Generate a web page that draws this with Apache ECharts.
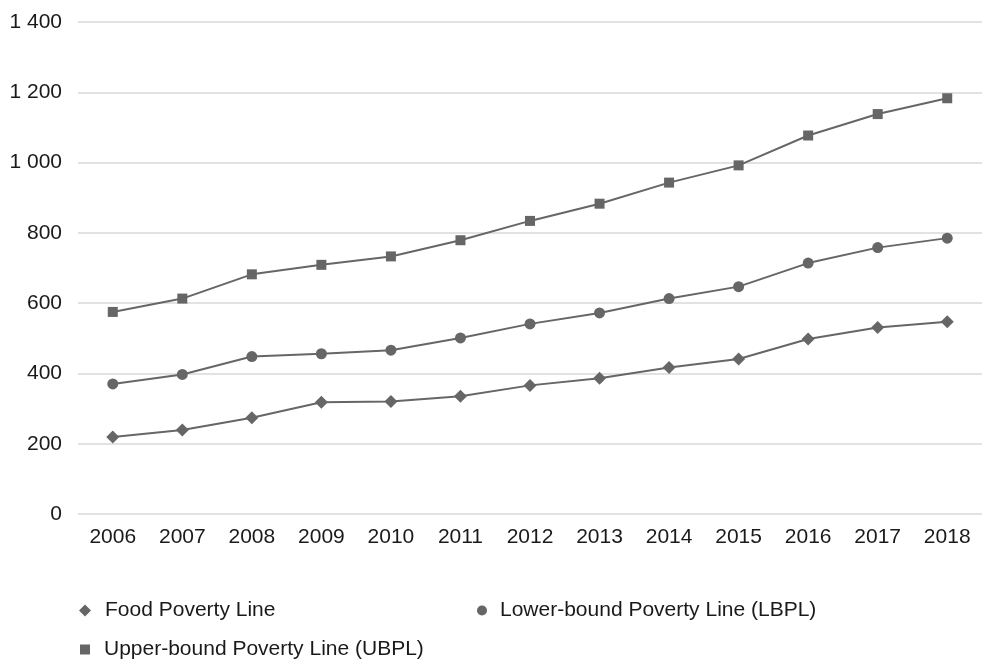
<!DOCTYPE html>
<html>
<head>
<meta charset="utf-8">
<script src="https://cdn.jsdelivr.net/npm/echarts@6/dist/echarts.min.js"></script>
<style>
  html, body { margin: 0; padding: 0; background: #fff; }
  #chart { width: 982px; height: 659px; }
</style>
</head>
<body>
<div id="chart"></div>
<script>
var years = ['2006','2007','2008','2009','2010','2011','2012','2013','2014','2015','2016','2017','2018'];
var foodLine = [219, 239, 274, 318, 320, 335, 366, 386, 417, 441, 498, 531, 547];
var lowerLine = [370, 397, 448, 456, 466, 501, 541, 572, 613, 647, 714, 758, 785];
var upperLine = [575, 613, 682, 709, 733, 779, 834, 883, 943, 992, 1077, 1138, 1183];
var seriesNames = ['Food Poverty Line', 'Lower-bound Poverty Line (LBPL)', 'Upper-bound Poverty Line (UBPL)'];
var seriesIcons = ['diamond', 'circle', 'rect'];

var grey = '#666666';
var txt = { fontFamily: 'Arial, Liberation Sans, sans-serif', fontSize: 21, color: '#1a1a1a' };

function legendFor(idx, left, top) {
    return {
        data: [{ name: seriesNames[idx], icon: seriesIcons[idx] }],
        left: left,
        top: top,
        padding: 0,
        itemWidth: idx == 0 ? 12 : 10,
        itemHeight: idx == 0 ? 12 : 10,
        textStyle: Object.assign({ padding: [0, 0, 0, idx == 1 ? 8 : 9] }, txt)
    };
}

var chart = echarts.init(document.getElementById('chart'));
var option = {
    animation: false,
    legend: [
        legendFor(0, 79, 600),
        legendFor(1, 477, 600),
        legendFor(2, 80, 639)
    ],
    grid: { left: 78, top: 22, width: 910, height: 492 },
    xAxis: {
        type: 'category',
        data: years,
        boundaryGap: true,
        axisLine: { show: false },
        axisTick: { show: false },
        axisLabel: Object.assign({ margin: 13 }, txt)
    },
    yAxis: {
        type: 'value',
        min: 0,
        max: 1400,
        interval: 200,
        axisLine: { show: false },
        axisTick: { show: false },
        splitLine: { lineStyle: { color: '#d9d9d9', width: 1.5 } },
        axisLabel: Object.assign({
            margin: 16,
            formatter: function (v) {
                return String(v).replace(/\B(?=(\d{3})+(?!\d))/g, ' ');
            }
        }, txt)
    },
    series: [
        {
            name: seriesNames[0], type: 'line', data: foodLine,
            symbol: 'diamond', symbolSize: 13,
            lineStyle: { color: grey, width: 2 }, itemStyle: { color: grey }
        },
        {
            name: seriesNames[1], type: 'line', data: lowerLine,
            symbol: 'circle', symbolSize: 11,
            lineStyle: { color: grey, width: 2 }, itemStyle: { color: grey }
        },
        {
            name: seriesNames[2], type: 'line', data: upperLine,
            symbol: 'rect', symbolSize: 10,
            lineStyle: { color: grey, width: 2 }, itemStyle: { color: grey }
        }
    ]
};
chart.setOption(option);
</script>
</body>
</html>
